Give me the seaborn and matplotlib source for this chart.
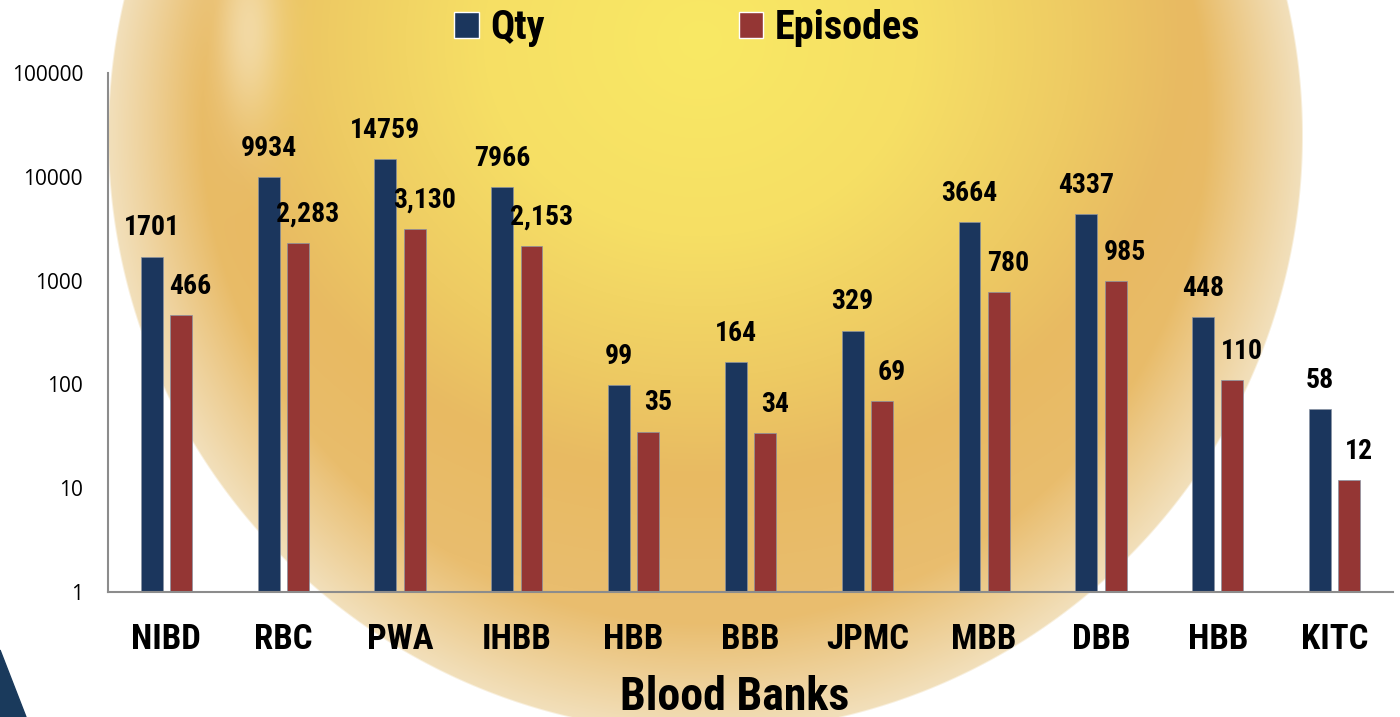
import numpy as np
import pandas as pd
import seaborn as sns
import matplotlib.pyplot as plt
from matplotlib.patches import Patch, Polygon
from matplotlib.colors import to_rgb

banks = ['NIBD', 'RBC', 'PWA', 'IHBB', 'HBB', 'BBB', 'JPMC', 'MBB', 'DBB', 'HBB', 'KITC']
qty = [1701, 9934, 14759, 7966, 99, 164, 329, 3664, 4337, 448, 58]
episodes = [466, 2283, 3130, 2153, 35, 34, 69, 780, 985, 110, 12]
series = ['Qty', 'Episodes']
colors = ['#1B365D', '#943634']

W, H = 1400, 717
BOLD = ['Liberation Sans Narrow', 'Roboto Condensed', 'DejaVu Sans']
REG = ['Open Sans', 'DejaVu Sans']
bold_kw = dict(family=BOLD, fontweight='bold', fontstretch='condensed', color='black')

df = pd.DataFrame({
    'pos': list(range(len(banks))) * 2,
    'value': qty + episodes,
    'series': ['Qty'] * len(banks) + ['Episodes'] * len(banks),
})

sns.set_style('white')
fig = plt.figure(figsize=(W / 100, H / 100), dpi=100)

# background: golden disc
bg = fig.add_axes([0, 0, 1, 1], zorder=-10)
yy, xx = np.mgrid[0:H, 0:W].astype(float)
cx, cy, r = 705, 135, 598
fx, fy = 700, 40

# core colour from an elliptical gradient
e = np.hypot((xx - fx) / 620, (yy - fy) / 560)
stops = [0.0, 0.35, 0.6, 0.78, 1.0]
cols = [to_rgb(c) for c in ['#F9E964', '#F6DF65', '#EECB63', '#E8BA62', '#E9BD6E']]
img = np.ones((H, W, 3))
for k in range(3):
    img[..., k] = np.interp(e, stops, [c[k] for c in cols])

# fade toward pale near the rim (focal distance relative to rim)
vx, vy = xx - fx, yy - fy
dist = np.hypot(vx, vy) + 1e-9
ux, uy = vx / dist, vy / dist
b = ux * (fx - cx) + uy * (fy - cy)
lam = -b + np.sqrt(b ** 2 - ((fx - cx) ** 2 + (fy - cy) ** 2 - r ** 2))
s = np.clip(dist / lam, 0, 1)
w = np.clip((s - 0.84) / 0.16, 0, 1)[..., None]
img = img * (1 - w) + w * np.array(to_rgb('#F2E0BC'))

# soft highlight on the upper left
hl = 0.5 * np.exp(-((xx - 248) / 32) ** 2 - ((yy - 30) / 95) ** 2)
img = img * (1 - hl[..., None]) + hl[..., None] * np.array(to_rgb('#FBF3E4'))

d_edge = np.hypot(xx - cx, yy - cy)
alpha = np.clip((r - d_edge) / 2.0, 0, 1)[..., None]
img = img * alpha + (1 - alpha)
bg.imshow(img, extent=[0, W, H, 0], aspect='auto')
bg.set_xlim(0, W)
bg.set_ylim(H, 0)
bg.axis('off')
bg.add_patch(Polygon([(0, 650), (26, H), (0, H)], closed=True, color='#1A3A5C'))

ax = fig.add_axes([108 / W, 1 - 592 / H, (1393 - 108) / W, (592 - 73) / H])
ax.set_facecolor('none')
ax.set_yscale('log')
sns.barplot(data=df, x='pos', y='value', hue='series', hue_order=series,
            palette=colors, saturation=1, width=0.5, gap=0.25, legend=False, ax=ax,
            edgecolor='#8a93a3', linewidth=0.5)
ax.set_ylim(1, 100000)
ax.set_xlim(-0.5, len(banks) - 0.5)

labels = [[f'{v}' for v in qty], [f'{v:,}' for v in episodes]]
for cont, labs, dx in zip(ax.containers, labels, [0, 7]):
    for p, txt in zip(cont, labs):
        ax.annotate(txt, (p.get_x() + p.get_width() / 2, p.get_height()), xytext=(dx, 11),
                    textcoords='offset points', ha='center', va='bottom',
                    fontsize=20, **bold_kw)

ax.set_xticks(range(len(banks)))
ax.set_xticklabels(banks, fontsize=25, **bold_kw)
ax.set_yticks([1, 10, 100, 1000, 10000, 100000])
ax.set_yticklabels(['1', '10', '100', '1000', '10000', '100000'], fontsize=15,
                   family=REG, color='black')
ax.minorticks_off()
ax.tick_params(axis='x', length=0, pad=22)
ax.tick_params(axis='y', length=0, pad=18)
ax.set_xlabel('')
ax.set_ylabel('')
for side in ['top', 'right']:
    ax.spines[side].set_visible(False)
for side in ['left', 'bottom']:
    ax.spines[side].set_color('#8C8C8C')
    ax.spines[side].set_linewidth(1.5)

fig.text(735 / W, 1 - 697 / H, 'Blood Banks', ha='center', va='center',
         fontsize=33, **bold_kw)

handles = [Patch(facecolor=c, label=s) for c, s in zip(colors, series)]
leg = fig.legend(handles=handles, loc='center', bbox_to_anchor=(0.491, 1 - 28 / H), ncol=2,
                 frameon=False,
                 prop={'family': BOLD, 'weight': 'bold', 'size': 29, 'stretch': 'condensed'},
                 handlelength=0.6, handleheight=0.6, handletextpad=0.3, columnspacing=4.8)
for t in leg.get_texts():
    t.set_color('black')

fig.savefig('out.png', dpi=100)
